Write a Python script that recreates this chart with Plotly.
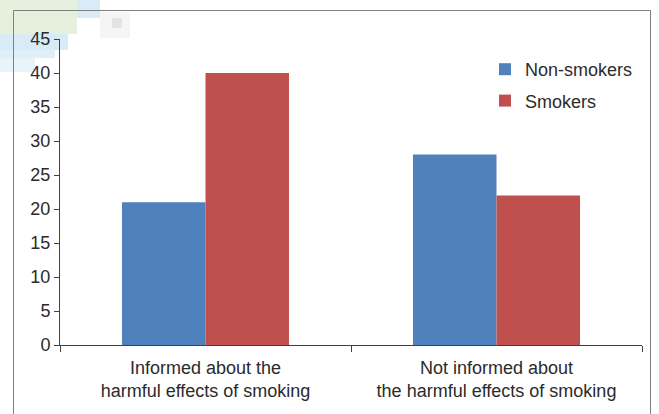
import plotly.graph_objects as go

categories = ["Informed about the<br>harmful effects of smoking",
              "Not informed about<br>the harmful effects of smoking"]
non_smokers = [21, 28]
smokers = [40, 22]
y_ticks = [0, 5, 10, 15, 20, 25, 30, 35, 40, 45]

fig = go.Figure()
fig.add_trace(go.Bar(x=categories, y=non_smokers, name="Non-smokers",
                     marker=dict(color="#4F81BD", line=dict(width=0)),
                     legendgroup="a"))
fig.add_trace(go.Bar(x=categories, y=smokers, name="Smokers",
                     marker=dict(color="#C0504D", line=dict(width=0)),
                     legendgroup="b"))

W, H = 659, 414
L, R, T, B = 60, 17, 39, 69
pw = W - L - R
ph = H - T - B

def px2x(p):
    return (p - L) / pw

def px2y(p):
    return (H - B - p) / ph

shapes = []
# faint decoration at top-left corner
for (x0, y0, x1, y1, c) in [
    (0, 0, 77, 34, "#e6f1dd"),
    (77, 0, 100, 18, "#d8ebf7"),
    (0, 34, 68, 50, "#d9ebf7"),
    (0, 50, 55, 58, "#e0eef8"),
    (0, 58, 35, 72, "#e9f3fa"),
    (100, 12, 130, 38, "#f5f5f5"),
    (112, 18, 122, 28, "#e4e4e4"),
]:
    shapes.append(dict(type="rect", xref="paper", yref="paper",
                       x0=px2x(x0), x1=px2x(x1), y0=px2y(y1), y1=px2y(y0),
                       fillcolor=c, line=dict(width=0), layer="below"))
# outer frame
shapes.append(dict(type="rect", xref="paper", yref="paper",
                   x0=px2x(13.5), x1=px2x(650.5), y0=px2y(430), y1=px2y(10.5),
                   line=dict(color="#7f7f7f", width=1), fillcolor="rgba(0,0,0,0)",
                   layer="below"))

fig.update_layout(
    width=W, height=H,
    margin=dict(l=L, r=R, t=T, b=B, pad=0),
    paper_bgcolor="white", plot_bgcolor="rgba(0,0,0,0)",
    barmode="group", bargap=0.426, bargroupgap=0,
    font=dict(family="Liberation Sans, Arial, sans-serif", size=18, color="#2b2b2b"),
    showlegend=True,
    legend=dict(x=px2x(485), y=px2y(51), xanchor="left", yanchor="top",
                bgcolor="rgba(0,0,0,0)", traceorder="grouped", tracegroupgap=5,
                font=dict(size=18, color="#2b2b2b")),
    shapes=shapes,
)
fig.update_xaxes(showline=True, linecolor="#404040", linewidth=1,
                 ticks="outside", tickson="boundaries", ticklen=6,
                 tickcolor="#404040", showgrid=False, zeroline=False,
                 ticklabelstandoff=6,
                 tickfont=dict(size=18, color="#2b2b2b"))
fig.update_yaxes(range=[0, 45], tickvals=y_ticks, showline=True,
                 linecolor="#404040", linewidth=1, ticks="outside", ticklen=5,
                 tickcolor="#404040", showgrid=False, zeroline=False,
                 tickfont=dict(size=18, color="#2b2b2b"))

fig.write_html("out.html")
